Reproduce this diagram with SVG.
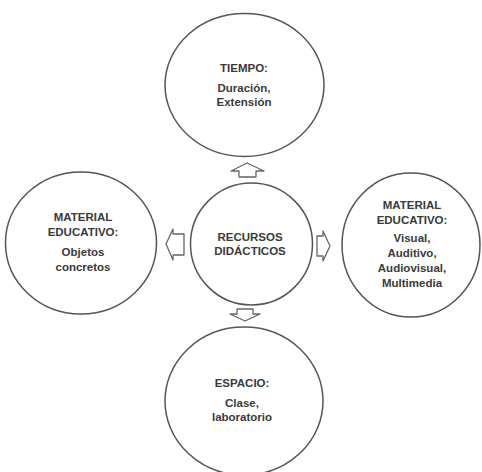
<svg xmlns="http://www.w3.org/2000/svg" width="482" height="472" viewBox="0 0 482 472">
<style>
.c{fill:#fff;stroke:#555;stroke-width:1.5}
.a{fill:#fff;stroke:#666;stroke-width:1.3;stroke-linejoin:round}
text{font-family:"Liberation Sans",Arial,sans-serif;font-weight:bold;font-size:11.5px;fill:#3a3a3a;text-anchor:middle}
</style>
<rect width="482" height="472" fill="#fff"/>
<g id="connectors">
<path class="a" d="M247,163 L264,171 L256,171 L256,177 L239,177 L239,171 L231,171 Z"/>
<path class="a" d="M166,244 L173,229 L173,234 L184,234 L184,255 L173,255 L173,260 Z"/>
<path class="a" d="M330,246 L323,231 L323,236 L317,236 L317,256 L323,256 L323,261 Z"/>
<path class="a" d="M237,309 L253,309 L253,314 L260,314 L245,321 L230,314 L237,314 Z"/>
</g>
<g id="tiempo">
<ellipse class="c" cx="244.5" cy="85" rx="79.5" ry="71.5"/>
<text x="244" y="72">TIEMPO:</text>
<text x="244" y="92">Duración,</text>
<text x="244" y="106">Extensión</text>
</g>
<g id="material-izq">
<ellipse class="c" cx="81" cy="243" rx="75.5" ry="71"/>
<text x="83" y="221">MATERIAL</text>
<text x="83" y="236">EDUCATIVO:</text>
<text x="83" y="256">Objetos</text>
<text x="83" y="271">concretos</text>
</g>
<g id="recursos">
<ellipse class="c" cx="251.5" cy="244" rx="61" ry="61"/>
<text x="250" y="241">RECURSOS</text>
<text x="250" y="255">DIDÁCTICOS</text>
</g>
<g id="material-der">
<ellipse class="c" cx="411" cy="245" rx="69" ry="72"/>
<text x="412" y="209">MATERIAL</text>
<text x="412" y="224">EDUCATIVO:</text>
<text x="412" y="242">Visual,</text>
<text x="412" y="257">Auditivo,</text>
<text x="412" y="272">Audiovisual,</text>
<text x="412" y="287">Multimedia</text>
</g>
<g id="espacio">
<ellipse class="c" cx="244" cy="401" rx="79" ry="74"/>
<text x="242" y="387">ESPACIO:</text>
<text x="242" y="407">Clase,</text>
<text x="242" y="421">laboratorio</text>
</g>
</svg>
